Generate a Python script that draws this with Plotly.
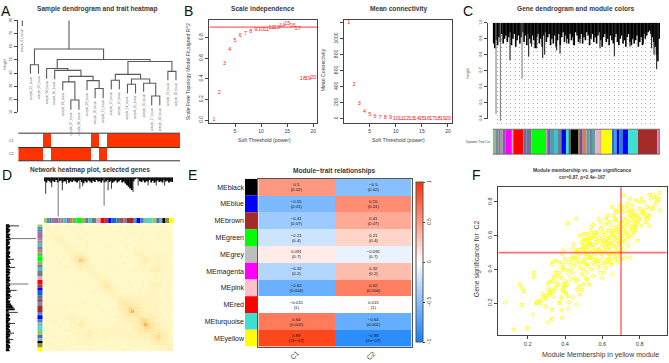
import plotly.graph_objects as go

W, H = 669, 363
FONT = "Liberation Sans"
INK = "#3a3a3a"

# ---------- Panel A ----------
sample_labels = [f"sample_{i:02d}_tissue" for i in range(1, 21)]
# (height, left, right); leaves are (index, hang height)
sample_tree = (82.75, (1, 75.75),
  (58.25,
    (46.25, (2, 39.5), (3, 39.5)),
    (50.25,
      (43.5, (4, 35.75),
        (42.0, (5, 35.25),
          (37.5,
            (33.25, (6, 27.0), (19.5, (7, 12.0), (8, 12.0))),
            (34.25, (9, 27.0), (28.25, (10, 20.75), (11, 20.75)))))),
      (48.75,
        (39.0,
          (34.5, (12, 27.75), (13, 27.75)),
          (35.5,
            (31.5, (14, 24.5), (15, 24.5)),
            (32.25, (16, 25.75), (22.5, (17, 15.25), (18, 15.25))))),
        (41.25, (19, 34.5), (20, 34.5))))))
height_ticks = [10, 20, 30, 40, 50, 60, 70, 80]
trait_c1 = [0,0,0,1,0,0,0,0,0,1,0,1,1,1,1,1,1,1,1,1]
trait_c2 = [1,1,1,0,1,1,1,1,1,0,1,0,0,0,0,0,0,0,0,0]

# ---------- Panel B ----------
powers = list(range(1, 21))
sft_fit = [.005,.27,.55,.685,.77,.82,.84,.86,.875,.88,.88,.90,.90,.92,.93,.92,.89,.40,.405,.41]
mean_k = [1200,420,185,90,50,28,18,12,8,6,4,3,3,2,2,2,1,1,1,1]

# ---------- Panel C ----------
c_env = [.87,.84,.89,.86,.91,.88,.93,.87,.90,.92,.88,.91,.94,.86,.90,.93,.85,.89,.92,.87,
 .91,.94,.88,.92,.86,.93,.90,.87,.92,.89,.84,.91,.93,.87,.90,.85,.92,.94,.88,.91,
 .93,.86,.90,.87,.92,.85,.89,.93,.86,.91,.94,.88,.92,.90,.87,.93,.89,.91,.86,.94,
 .92,.88,.90,.93,.87,.91,.89,.94,.92,.86,.90,.93,.88,.91,.87,.92,.94,.89,.85,.91,
 .93,.88,.90,.86,.92,.89,.87,.91,.93,.88,.86,.90,.92,.87,.89,.85,.91,.93,.88,.86,
 .90,.87,.89,.92,.85,.88,.91,.86,.93,.90,.92,.94,.95,.93,.91,.88,.85,.80,.76,.90]
c_spike_x = [240,296,305,320,338,344,380,390,410,430,450,510,553,600,640,665,672,680]
c_spike_h = [.765,.788,.85,.84,.78,.80,.827,.806,.87,.86,.87,.84,.79,.85,.87,.84,.80,.71]
c_gray_x = [198,211,276]
c_gray_h = [.43,.388,.65]
c_ticks = [.4,.5,.6,.7,.8,.9,1.0]
c_colors = ["#8FBC8F","#6f8f9f","#7f7f7f","#b08ea0","#8060b0","#ff00ff","#dda0b0","#ff0000","#6070a0","#707090",
 "#00ff00","#c0a0a0","#8050d0","#4fa0a0","#40c0d0","#708090","#0000ff","#40e0d0","#606060","#000000",
 "#a08040","#7050a0","#e08040","#50a0c0","#708090","#60a0a0","#eeb0c8","#d2b48c","#ffff00","#2070e0",
 "#40a0e0","#0000ff","#2080d0","#0000ff","#40e0d0","#a52a2a","#d080b0","#888888"]
c_widths = [8,9,7,6,8,20,4,30,10,14,44,4,8,12,12,10,14,10,4,22,6,8,12,8,8,10,16,2,32,6,8,8,10,16,30,58,6,2]

# ---------- Panel D ----------
d_top_env = [.90,.87,.92,.89,.86,.91,.88,.93,.87,.90,.92,.87,.90,.89,.93,.86,.90,.88,.92,.89,
 .87,.91,.93,.88,.85,.90,.87,.92,.89,.86,.91,.88,.93,.89,.90,.87,.92,.87,.89,.93,
 .88,.91,.86,.89,.92,.87,.90,.93,.87,.89,.84,.80,.76,.72,.68,.90,.95,.97,.96,.90,
 .88,.92,.87,.90,.89,.93,.87,.91,.86,.89,.92,.88,.90,.87,.93,.89,.91,.87,.89,.88]
d_top_sx = [.013,.06,.142,.175,.278,.30,.497,.523,.665,.69,.73,.807,.87,.935]
d_top_sh = [.58,.75,.67,.83,.71,.775,.67,.71,.71,.625,.79,.79,.79,.79]
d_top_gx = [.11,.466]
d_top_gh = [.0,.275]
d_left_env = [.88,.86,.90,.85,.87,.91,.85,.89,.86,.84,.90,.86,.88,.92,.85,.87,.90,.85,.86,.89,
 .85,.91,.87,.86,.84,.89,.86,.90,.85,.88,.85,.87,.91,.86,.88,.85,.90,.86,.85,.89,
 .86,.87,.84,.90,.85,.88,.86,.91,.85,.87,.82,.78,.74,.70,.90,.94,.88,.86,.90,.85,
 .87,.91,.85,.88,.86,.90,.86,.84,.89,.85,.87,.91,.86,.88,.85,.90,.86,.85,.89,.87]
d_left_sy = [.013,.276,.34,.52,.57,.693,.78,.856,.907]
d_left_sh = [.56,.725,.69,.64,.80,.60,.69,.725,.75]
d_left_gy = [.113,.47]
d_left_gh = [.0,.25]
d_colors = ["#a0d060","#40a0a0","#6070c0","#908090","#d050b0","#70a070","#b080a0","#50c0a0","#8070d0","#d08040",
 "#60c060","#00ff00","#a0b050","#6080a0","#50c0c0","#708070","#e8a0c0","#ff0000","#a04040","#0000ff",
 "#2060d0","#408080","#a05060","#8080a0","#a52a2a","#30a0d0","#0000ff","#4080c0","#80c0a0","#40e0d0",
 "#b0c050","#4070c0","#80b0a0","#000000","#a09020","#ffff00"]
d_widths = [8,8,7,10,10,7,8,10,10,8,12,16,10,9,10,15,12,13,10,10,15,8,12,10,22,8,12,10,13,13,12,10,8,8,12,12]
# upper triangle of the TOM picture; every row starts on the diagonal
tom_rows = [
 "3001000100000000000000000100100000001000","200100000010000000000010000010000000100",
 "20100010000000100000000001001000100100","2110000100100000010000010001000010010",
 "321000010000000000000100010010001000","31100000100100000100000100010001001",
 "2110100100000010000100010101000100","221000100000100000100111010010010",
 "22220000000000000000222111001001","3332100001000000000133111200100",
 "554210000100000100011321122100","75310000001000000013431121100",
 "4210000100001000012201221100","321000000100000011102332100",
 "21100100010001101113331001","2110001000000000111211000",
 "211100000100010111210100","32200010000000101111000",
 "4321000010001012221001","532100001001012221010",
 "32100000010011210100","2110010010112110010",
 "211111110112210101","43332221112110010",
 "4443322211211001","554432211210100",
 "66543221211100","8543221221010",
 "543333211010","55444321100",
 "6654321100","865432100",
 "65432111","5443210","454310","65321","4321","321","32","2"]

# ---------- Panel E ----------
modules = ["MEblack","MEblue","MEbrown","MEgreen","MEgrey","MEmagenta","MEpink","MEred","MEturquoise","MEyellow"]
module_colors = ["#000000","#0000ff","#a52a2a","#00ff00","#bebebe","#ff00ff","#ffc0cb","#ff0000","#40e0d0","#ffff00"]
cor_c1 = [.5,-.55,-.41,-.21,.091,-.32,-.62,-.015,.64,.89]
cor_c2 = [-.5,.55,.41,.21,-.091,.32,.62,.015,-.64,-.89]
p_vals = ["0.02","0.01","0.07","0.4","0.7","0.2","0.004","1","0.002","2e−07"]
traits = ["C1","C2"]

# ---------- Panel F ----------
mm = [.077,.123,.198,.155,.17,.179,.166,.232,.232,.227,.31,.33,.384,.384,.418,.462,.413,.46,
 .25,.26,.245,.27,.265,.28,.285,.29,.30,.31,.32,.325,.33,.335,.34,.35,.295,.33,.37,.375,.38,.31,.315,.305,.315,
 .35,.36,.37,.38,.34,.345,.355,.365,.385,.39,.395,.40,.39,.40,.41,.415,.42,.44,.405,.33,.335,.35,.37,.38,.39,.395,.40,.385,.39,
 .41,.42,.43,.44,.42,.43,.45,.46,.47,.475,.49,.465,.48,.50,.51,.52,.53,.45,.46,.47,.48,.49,.50,.515,.525,.54,.55,
 .44,.43,.45,.46,.47,.44,.48,.49,.50,.50,.51,.52,.53,.53,.54,.55,.56,.57,.58,.59,.60,.61,.62,.64,.655,.68,.70,.72,.75,.70,
 .50,.51,.52,.53,.54,.55,.56,.57,.58,.59,.60,.61,.62,.63,.64,.65,.66,.67,.68,.69,
 .505,.515,.525,.535,.545,.555,.565,.575,.585,.595,.605,.615,.625,.635,.645,.655,.665,.675,.685,.695,
 .50,.52,.54,.56,.58,.60,.62,.64,.66,.68,.70,.51,.53,.55,.57,.59,.61,.63,.65,.67,
 .69,.71,.72,.73,.74,.75,.76,.77,.78,.79,.70,.71,.72,.73,.74,.75,.76,.77,.78,.80,
 .62,.64,.66,.68,.70,.72,.74,.76,.78,.80,.82,.84,.86,.88,.90,.81,.83,.85,.87,.89,
 .91,.905,.90,.885,.87,.852,.84,.825,.81,.795,.78,.765,.748,.735,.712,.70,.69,.67,.65,.63,
 .60,.59,.58,.57,.56,.55,.54,.53,.52,.51,.50,.49,.48,.47,.46,.45,.44,.43,.62,.61,
 .63,.65,.67,.69,.71,.73,.75,.77,.79,.81,.83,.85,.72,.74,.76,.78,.80,.82,.84,.86,
 .64,.66,.68,.70,.72,.74,.76,.70,.68,.66,.64,.62,.60,.58,.56,.54,.52,.50,.48,.46,
 .59,.61,.63,.65,.67,.69,.71,.73,.75,.77,.79,.60,.62,.64,.66,.68,.70,.72,.74,.76]
gs = [.204,.044,.052,.31,.293,.272,.19,.355,.382,.132,.085,.106,.113,.157,.167,.192,.674,.70,
 .205,.21,.2,.215,.2,.255,.24,.23,.225,.31,.265,.28,.33,.24,.27,.29,.18,.16,.2,.21,.235,.28,.325,.245,.255,
 .38,.36,.38,.35,.355,.335,.315,.31,.28,.27,.29,.30,.31,.33,.31,.24,.205,.235,.26,.43,.445,.45,.44,.41,.40,.43,.46,.49,.51,
 .395,.44,.40,.385,.37,.34,.35,.33,.34,.30,.28,.28,.25,.31,.35,.34,.31,.42,.44,.46,.41,.37,.40,.38,.42,.40,.36,
 .46,.46,.47,.50,.515,.525,.49,.52,.54,.58,.50,.53,.56,.47,.49,.44,.43,.45,.41,.38,.35,.38,.41,.44,.37,.44,.46,.47,.47,.57,
 .455,.49,.58,.505,.585,.53,.49,.56,.515,.60,.465,.555,.50,.57,.52,.61,.49,.53,.59,.50,
 .53,.47,.55,.47,.545,.60,.46,.51,.57,.49,.62,.44,.58,.49,.66,.47,.58,.65,.51,.62,
 .61,.43,.62,.58,.45,.54,.67,.46,.54,.48,.50,.43,.59,.665,.62,.68,.51,.63,.56,.70,
 .56,.58,.62,.66,.54,.64,.60,.69,.63,.57,.65,.70,.56,.60,.68,.72,.66,.74,.67,.70,
 .70,.68,.60,.74,.75,.77,.74,.78,.72,.76,.75,.77,.76,.78,.82,.66,.68,.72,.76,.80,
 .75,.855,.81,.83,.84,.843,.72,.80,.82,.70,.81,.71,.82,.79,.84,.77,.78,.75,.77,.72,
 .65,.64,.70,.60,.62,.51,.65,.55,.61,.57,.52,.56,.60,.50,.51,.55,.48,.43,.60,.57,
 .54,.63,.69,.67,.64,.71,.69,.62,.72,.74,.71,.66,.66,.76,.72,.65,.80,.73,.70,.82,
 .59,.50,.62,.53,.51,.58,.63,.60,.57,.63,.49,.53,.58,.52,.55,.47,.49,.44,.44,.47,
 .42,.44,.46,.43,.46,.55,.74,.62,.75,.65,.68,.50,.56,.55,.72,.64,.68,.69,.60,.75]


# ---------- helpers ----------
fig = go.Figure()
layout = {}
shapes = []
notes = []
n_ax = [0]

def axes(x0, x1, y0, y1, xr, yr, xopt=None, yopt=None):
    """Create an x/y axis pair on a pixel rectangle and return trace refs."""
    n_ax[0] += 1
    n = n_ax[0]
    sx = "" if n == 1 else str(n)
    off = dict(visible=False, showgrid=False, zeroline=False, fixedrange=True)
    xa = dict(off, domain=[x0 / W, x1 / W], range=xr, anchor=f"y{sx}")
    ya = dict(off, domain=[1 - y1 / H, 1 - y0 / H], range=yr, anchor=f"x{sx}")
    xa.update(xopt or {})
    ya.update(yopt or {})
    layout[f"xaxis{sx}"] = xa
    layout[f"yaxis{sx}"] = ya
    return dict(xaxis=f"x{sx}", yaxis=f"y{sx}")

def note(x, y, text, size=5.5, bold=False, angle=0, color=INK, anchor="center", yanchor="middle"):
    notes.append(dict(xref="paper", yref="paper", x=x / W, y=1 - y / H, text=f"<b>{text}</b>" if bold else text,
                      showarrow=False, font=dict(family=FONT, size=size, color=color), textangle=angle,
                      xanchor=anchor, yanchor=yanchor, borderpad=0, align="center"))

def line(x0, y0, x1, y1, color="#444444", width=1):
    shapes.append(dict(type="line", xref="paper", yref="paper", x0=x0 / W, x1=x1 / W, y0=1 - y0 / H, y1=1 - y1 / H,
                       line=dict(color=color, width=width)))

def tick_axis(vals, size=5, angle=0, length=3, text=None):
    d = dict(visible=True, showline=True, linecolor="#444444", linewidth=1, ticks="outside", ticklen=length,
             tickwidth=1, tickcolor="#444444", tickvals=vals, tickfont=dict(family=FONT, size=size, color=INK),
             tickangle=angle)
    if text is not None:
        d["ticktext"] = text
    return d

def drops(where, lows, refs, color="#000000", width=1.6, horizontal=False):
    """Dendrogram stems from the top of the tree (1) down to each merge height."""
    a, b = [], []
    for p, v in zip(where, lows):
        a.extend([p, p, None])
        b.extend([1, v, None])
    xs, ys = (b, a) if horizontal else (a, b)
    fig.add_trace(go.Scatter(x=xs, y=ys, mode="lines", line=dict(color=color, width=width), **refs))

BOX = dict(mirror=True)

# ---------- A ----------
tx, ty = [], []
def walk(node):
    """Return (x, top height) of a tree node, appending its segments."""
    if len(node) == 2:
        return node[0], node[1]
    h, l, r = node
    lx, lh = walk(l)
    rx, rh = walk(r)
    tx.extend([lx, lx, rx, rx, None])
    ty.extend([lh, h, h, rh, None])
    return (lx + rx) / 2, h
walk(sample_tree)
r = axes(18.3, 180, 17.7, 111, [.5, 20.5], [10, 80],
         yopt=dict(tick_axis(height_ticks, size=3.6, angle=-90, length=3), anchor="free", position=16.7 / W))
fig.add_trace(go.Scatter(x=tx, y=ty, mode="lines", line=dict(color="#5a5a5a", width=1.1), cliponaxis=False, **r))

def leaves(node):
    if len(node) == 2:
        return [node]
    return leaves(node[1]) + leaves(node[2])
for idx, hang in leaves(sample_tree):
    xpx = 18.3 + (idx - .5) * 8.085
    ypx = 17.7 + (80 - hang) * 93.3 / 70
    note(xpx, ypx + 1, sample_labels[idx - 1], size=2.9, angle=-90, color="#777777", yanchor="top")

r = axes(18.3, 180, 132, 160, [-.5, 19.5], [-.5, 1.5])
fig.add_trace(go.Heatmap(z=[trait_c2, trait_c1], colorscale=[[0, "#ffffff"], [1, "#ff3300"]], showscale=False, **r))
for yy in (132, 146.5, 160):
    line(18.3, yy, 180, yy, "#333333", 1)
note(11, 139.5, "C1", 3.6)
note(11, 152.7, "C2", 3.6)
note(5.5, 63, "Height", 3.6, angle=-90)
note(98, 6, "Sample dendrogram and trait heatmap", 6.6, bold=True)
note(6, 8, "A", 14, color="#111111")

# ---------- B ----------
r = axes(209.3, 317, 17, 122, [.077, 20.7], [-.0315, .972],
         xopt=dict(tick_axis([5, 10, 15, 20], 5), **BOX), yopt=dict(tick_axis([0, .2, .4, .6, .8], 5, -90, text=["0.0", "0.2", "0.4", "0.6", "0.8"]), **BOX))
fig.add_trace(go.Scatter(x=[.077, 20.7], y=[.9, .9], mode="lines", line=dict(color="#ff8c8c", width=1.8), **r))
fig.add_trace(go.Scatter(x=powers, y=sft_fit, mode="text", text=[str(p) for p in powers],
                         textfont=dict(family=FONT, size=5.5, color="#ff2020"), cliponaxis=False, **r))
r = axes(344, 452, 17, 122, [.077, 20.77], [-58, 1237],
         xopt=dict(tick_axis([5, 10, 15, 20], 5), **BOX),
         yopt=dict(tick_axis([0, 200, 400, 600, 800, 1000, 1200], 5, -90, text=["0", "200", "400", "600", "800", "1000", ""]), **BOX))
fig.add_trace(go.Scatter(x=powers, y=mean_k, mode="text", text=[str(p) for p in powers],
                         textfont=dict(family=FONT, size=5.5, color="#ff2020"), cliponaxis=False, **r))
note(263, 6, "Scale independence", 6.6, bold=True)
note(398, 6, "Mean connectivity", 6.6, bold=True)
note(264, 139, "Soft Threshold (power)", 5.2)
note(398, 139, "Soft Threshold (power)", 5.2)
note(188.3, 70, "Scale Free Topology Model Fit,signed R^2", 5.2, angle=-90)
note(323.3, 68, "Mean Connectivity", 5.2, angle=-90)
note(188, 8, "B", 14, color="#111111")

# ---------- C ----------
c_step = (690 - 188) / len(c_env)
c_x = [188 + c_step * (i + .5) for i in range(len(c_env))]
r = axes(492.7, 660, 20, 126, [188, 690], [.347, 1.0],
         xopt=dict(visible=True, showgrid=True, gridcolor="#aaaaaa", griddash="1px,3px", gridwidth=1, dtick=13.5,
                   tick0=188, showticklabels=False, ticks="", showline=False),
         yopt=dict(visible=False))
drops(c_x, c_env, r, "#000000", 1.6)
drops(c_spike_x, c_spike_h, r, "#111111", 1)
drops(c_gray_x, c_gray_h, r, "#777777", 1)
r = axes(486.7, 490, 20, 117.3, [0, 1], [.4, 1.0],
         yopt=dict(tick_axis(c_ticks, 3.8, -90, text=[f"{v:.1f}" for v in c_ticks]), anchor="free", position=486.7 / W))
fig.add_trace(go.Scatter(x=[0], y=[.7], mode="markers", marker=dict(size=1, opacity=0), **r))
c_base = [sum(c_widths[:i]) for i in range(len(c_widths))]
r = axes(492.7, 660, 128, 153.3, [0, sum(c_widths)], [-.5, .5])
fig.add_trace(go.Bar(y=[0] * len(c_widths), x=c_widths, base=c_base, orientation="h", width=1,
                     marker=dict(color=c_colors, line=dict(width=0)), **r))
line(492.7, 128, 660, 128, "#555555", .8)
line(492.7, 153.3, 660, 153.3, "#555555", .8)
note(575.7, 6, "Gene dendrogram and module colors", 6.6, bold=True)
note(468, 71.7, "Height", 3.6, angle=-90)
note(491.3, 140.7, "Dynamic Tree Cut", 3, anchor="right")
note(467.7, 8, "C", 14, color="#111111")

# ---------- D ----------
r = axes(44, 173, 176.7, 216.7, [0, 1], [0, 1])
step = 1 / len(d_top_env)
drops([step * (i + .5) for i in range(len(d_top_env))], d_top_env, r, "#000000", 1.8)
drops(d_top_sx, d_top_sh, r, "#222222", .9)
drops(d_top_gx, d_top_gh, r, "#666666", .9)
d_base = [sum(d_widths[:i]) for i in range(len(d_widths))]
r = axes(44, 173, 218, 223.3, [0, sum(d_widths)], [-.5, .5])
fig.add_trace(go.Bar(y=[0] * len(d_widths), x=d_widths, base=d_base, orientation="h", width=1,
                     marker=dict(color=d_colors, line=dict(width=0)), **r))
r = axes(5.7, 36, 224.3, 353.3, [1, 0], [1, 0])
step = 1 / len(d_left_env)
drops([step * (i + .5) for i in range(len(d_left_env))], d_left_env, r, "#000000", 1.8, horizontal=True)
drops(d_left_sy, d_left_sh, r, "#222222", .9, horizontal=True)
drops(d_left_gy, d_left_gh, r, "#666666", .9, horizontal=True)
r = axes(37.3, 42.7, 224.3, 353.3, [-.5, .5], [sum(d_widths), 0])
fig.add_trace(go.Bar(x=[0] * len(d_widths), y=d_widths, base=d_base, orientation="v", width=1,
                     marker=dict(color=d_colors, line=dict(width=0)), **r))
N = len(tom_rows)
tom = [[0] * N for _ in range(N)]
for i, row in enumerate(tom_rows):
    for j, ch in zip(range(i, N), row):
        tom[i][j] = tom[j][i] = int(ch)
r = axes(44, 173, 224.3, 353.3, [-.5, N - .5], [N - .5, -.5])
fig.add_trace(go.Heatmap(z=tom, zmin=0, zmax=9, showscale=False,
                         colorscale=[[0, "#fff8c8"], [.25, "#fff3bc"], [.55, "#fee9a6"], [.8, "#fbcb74"], [1, "#f2a02c"]], **r))
note(90, 169.7, "Network heatmap plot, selected genes", 6.6, bold=True)
note(7, 174, "D", 14, color="#111111")

# ---------- E ----------
r = axes(245, 257.3, 178.3, 348.3, [0, 1], [9.5, -.5],
         yopt=dict(visible=True, showline=False, ticks="", tickvals=list(range(10)), ticktext=modules,
                   tickfont=dict(family=FONT, size=7, color="#222222")))
fig.add_trace(go.Bar(y=list(range(10)), x=[1] * 10, orientation="h", width=1,
                     marker=dict(color=module_colors, line=dict(width=0)), **r))
cells = [[f"{v}<br>({p})".replace("-", "−") for v, p in zip(col, p_vals)] for col in (cor_c1, cor_c2)]
z_e = [[a, b] for a, b in zip(cor_c1, cor_c2)]
text_e = [[a, b] for a, b in zip(*cells)]
r = axes(258.3, 411.7, 178.3, 348.3, [-.5, 1.5], [9.5, -.5],
         xopt=dict(visible=True, showline=True, mirror=True, linecolor="#555555", showticklabels=False, ticks=""),
         yopt=dict(visible=True, showline=True, mirror=True, linecolor="#555555", showticklabels=False, ticks=""))
fig.add_trace(go.Heatmap(z=z_e, zmin=-1, zmax=1, text=text_e, texttemplate="%{text}",
                         textfont=dict(family=FONT, size=4.3, color="#111111"),
                         colorscale=[[0, "#1080ff"], [.5, "#ffffff"], [1, "#ff3000"]],
                         colorbar=dict(x=415.7 / W, xanchor="left", y=1 - 263 / H, yanchor="middle", thickness=6.6,
                                       thicknessmode="pixels", len=160, lenmode="pixels", xpad=0, ypad=0,
                                       tickvals=[-1, -.5, 0, .5, 1], ticktext=["−1", "−0.5", "0", "0.5", "1"],
                                       ticks="outside", ticklen=2, tickwidth=1, tickcolor="#444444", tickangle=-90,
                                       tickfont=dict(family=FONT, size=5, color=INK),
                                       outlinecolor="#555555", outlinewidth=1), **r))
note(334, 170, "Module−trait relationships", 6.6, bold=True)
note(294, 357, traits[0], 7, angle=-45)
note(370.7, 357, traits[1], 7, angle=-45)
note(192, 174, "E", 14, color="#111111")

# ---------- F ----------
r = axes(498.3, 666.7, 186.7, 336.7, [.0424, .945], [.0105, .888],
         xopt=dict(tick_axis([.2, .4, .6, .8], 5.5, text=["0.2", "0.4", "0.6", "0.8"]), **BOX),
         yopt=dict(tick_axis([.2, .4, .6, .8], 5.5, -90, text=["0.2", "0.4", "0.6", "0.8"]), **BOX))
fig.add_trace(go.Scatter(x=mm, y=gs, mode="markers", marker=dict(symbol="circle-open", size=3.2, color="#ffff00", line=dict(width=.9, color="#ffff00")), **r))
fig.add_trace(go.Scatter(x=[.0424, .945], y=[.5, .5], mode="lines", line=dict(color="#ff7070", width=1.8), **r))
fig.add_trace(go.Scatter(x=[.7, .7], y=[.0105, .888], mode="lines", line=dict(color="#ff2020", width=1), **r))
note(582, 169.5, "Module membership vs. gene significance", 4.9, bold=True)
note(582, 176.5, "cor=0.87, p=2.4e−167", 4.6, bold=True)
note(600.7, 356.7, "Module Membership in yellow module", 7)
note(477.7, 259, "Gene significance for  C2", 6.8, angle=-90)
note(476.7, 174, "F", 14, color="#111111")

fig.update_traces(hoverinfo="skip")
fig.update_layout(**layout)
fig.update_layout(width=W, height=H, margin=dict(l=0, r=0, t=0, b=0), paper_bgcolor="#ffffff", plot_bgcolor="rgba(0,0,0,0)",
                  showlegend=False, barmode="overlay", shapes=shapes, annotations=notes,
                  font=dict(family=FONT))
fig.write_html("out.html", config=dict(displayModeBar=False, responsive=False),
               post_script="document.body.style.margin='0';document.body.style.overflow='hidden';")
